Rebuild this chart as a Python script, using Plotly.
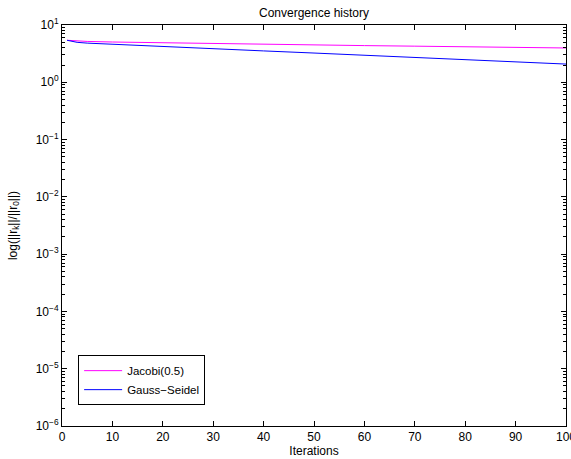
import plotly.graph_objects as go

iters = [1, 2, 3, 5, 10, 20, 30, 40, 50, 60, 70, 80, 90, 100]
jacobi = [5.41, 5.32, 5.26, 5.17, 5.05, 4.88, 4.73, 4.60, 4.47, 4.37, 4.27, 4.17, 4.07, 3.97]
gauss_seidel = [5.41, 5.15, 4.98, 4.83, 4.60, 4.21, 3.85, 3.53, 3.24, 2.96, 2.71, 2.48, 2.28, 2.08]

y_tick_vals = [1e-6, 1e-5, 1e-4, 1e-3, 1e-2, 1e-1, 1e0, 1e1]
y_tick_text = ["10<sup>\u22126</sup>", "10<sup>\u22125</sup>", "10<sup>\u22124</sup>", "10<sup>\u22123</sup>",
               "10<sup>\u22122</sup>", "10<sup>\u22121</sup>", "10<sup>0</sup>", "10<sup>1</sup>"]
x_tick_vals = [0, 10, 20, 30, 40, 50, 60, 70, 80, 90, 100]

font = dict(family="Liberation Sans, Arial, sans-serif", size=12, color="black")

fig = go.Figure()
fig.add_trace(go.Scatter(x=iters, y=jacobi, mode="lines", name="Jacobi(0.5)",
                         line=dict(color="#ff00ff", width=1)))
fig.add_trace(go.Scatter(x=iters, y=gauss_seidel, mode="lines", name="Gauss\u2212Seidel",
                         line=dict(color="#0000ff", width=1)))

fig.update_layout(
    width=571, height=459,
    margin=dict(l=62, r=5, t=25, b=33, autoexpand=False),
    paper_bgcolor="white", plot_bgcolor="white",
    font=font,
    title=dict(text="Convergence history", x=(62 + 566) / 2 / 571, xanchor="center",
               y=1 - 13 / 459, yanchor="middle", font=font, automargin=False),
    showlegend=True,
    legend=dict(x=0.032, y=0.052, xanchor="left", yanchor="bottom",
                bordercolor="black", borderwidth=1, bgcolor="white",
                font=dict(family=font["family"], size=11.5, color="black"),
                tracegroupgap=0, itemwidth=38),
)
fig.update_xaxes(
    range=[0, 100], tickvals=x_tick_vals, ticklabeloverflow="allow",
    showline=True, linecolor="black", linewidth=1, mirror="allticks",
    ticks="inside", ticklen=5, tickcolor="black",
    showgrid=False, zeroline=False, automargin=False,
    title=dict(text="Iterations", standoff=0, font=font),
    tickfont=font,
)
fig.update_yaxes(
    type="log", range=[-6, 1], tickvals=y_tick_vals, ticktext=y_tick_text,
    showline=True, linecolor="black", linewidth=1, mirror="allticks",
    ticks="inside", ticklen=5, tickcolor="black",
    minor=dict(ticks="inside", ticklen=3, tickcolor="black", dtick="D1", showgrid=False),
    showgrid=False, zeroline=False, automargin=False,
    title=dict(text="log(||r<sub>k</sub>||/||r<sub>0</sub>||)", standoff=15, font=font),
    tickfont=font,
)

fig.write_html("out.html", config={"displayModeBar": False},
               post_script="document.body.style.margin='0';document.body.style.overflow='hidden';")
